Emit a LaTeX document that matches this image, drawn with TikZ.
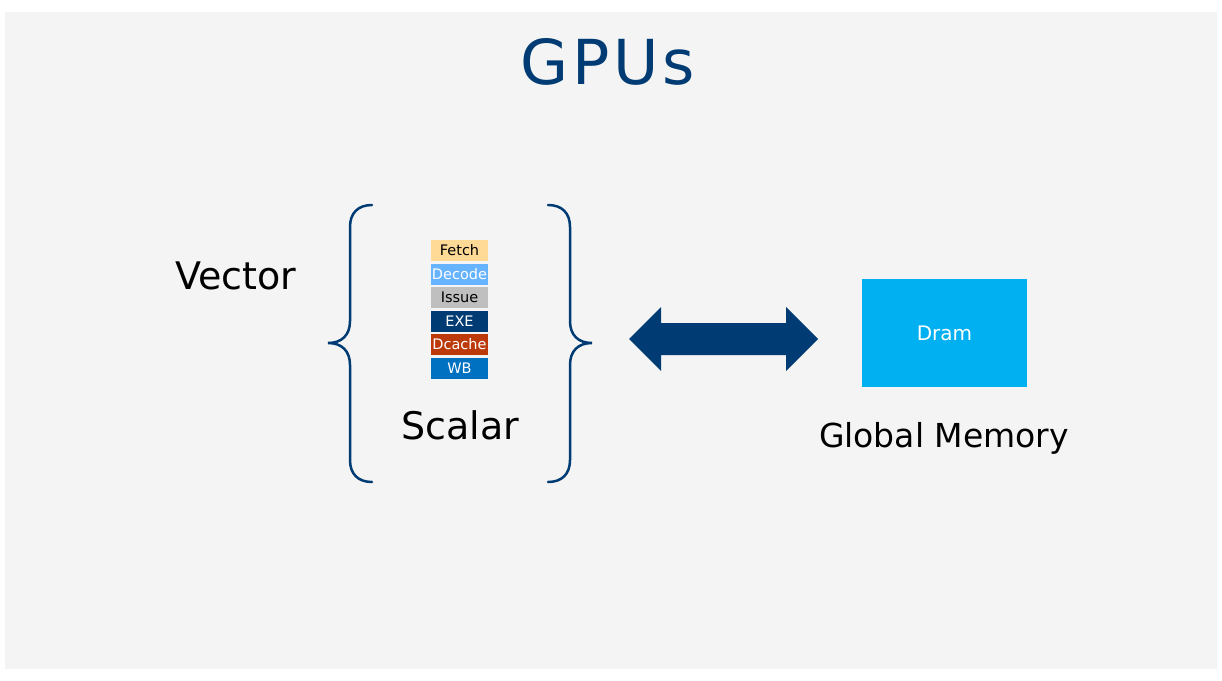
\documentclass[tikz,border=0pt]{standalone}
\usepackage{fontspec}
\setmainfont{DejaVu Sans}
\newfontfamily\titlefont[LetterSpace=6]{DejaVu Sans}
\usetikzlibrary{positioning}
\definecolor{bgc}{HTML}{F4F4F4}
\definecolor{navy}{HTML}{003B73}
\definecolor{cFetch}{HTML}{FFD996}
\definecolor{cDecode}{HTML}{66B3FF}
\definecolor{cIssue}{HTML}{BFBFBF}
\definecolor{cExe}{HTML}{003B73}
\definecolor{cDcache}{HTML}{BC3A0A}
\definecolor{cWB}{HTML}{0070C0}
\definecolor{cDram}{HTML}{00B0F0}
\tikzset{
  stage/.style={minimum width=57pt, minimum height=21pt, inner sep=0pt, font=\fontsize{14.5}{16}\selectfont},
  bigtext/.style={font=\fontsize{38}{44}\selectfont, text=black, inner sep=0pt},
  bracepath/.style={draw=navy, line width=2.5pt, line cap=round},
}
\begin{document}
\begin{tikzpicture}[x=1pt,y=-1pt]
\useasboundingbox (0,0) rectangle (1222,680);
\fill[bgc] (5,12) rectangle (1217,669);
\node[font=\titlefont\fontsize{62}{70}\selectfont, text=navy, inner sep=0pt] (title) at (608,62) {GPUs};
\node[bigtext] (vector) at (236,276) {Vector};
% stages
\node[stage, fill=cFetch, text=black] (fetch) at (459.5,250.5) {Fetch};
\node[stage, fill=cDecode, text=white] (decode) at (459.5,274.5) {Decode};
\node[stage, fill=cIssue, text=black] (issue) at (459.5,297.5) {Issue};
\node[stage, fill=cExe, text=white] (exe) at (459.5,321.5) {EXE};
\node[stage, fill=cDcache, text=white] (dcache) at (459.5,344.5) {Dcache};
\node[stage, fill=cWB, text=white] (wb) at (459.5,368.5) {WB};
\node[bigtext] (scalar) at (460,425) {Scalar};
% braces
\coordinate (lbtop) at (372,205);
\coordinate (lbtip) at (328,343);
\coordinate (lbbot) at (372,482);
\coordinate (rbtop) at (548,205);
\coordinate (rbtip) at (592,343);
\coordinate (rbbot) at (548,482);
\draw[bracepath] (lbtop) .. controls (358,205) and (350,213) .. (350,227) -- (350,321)
  .. controls (350,335) and (342,343) .. (lbtip)
  .. controls (342,343) and (350,351) .. (350,365) -- (350,460)
  .. controls (350,474) and (358,482) .. (lbbot);
\draw[bracepath] (rbtop) .. controls (562,205) and (570,213) .. (570,227) -- (570,321)
  .. controls (570,335) and (578,343) .. (rbtip)
  .. controls (578,343) and (570,351) .. (570,365) -- (570,460)
  .. controls (570,474) and (562,482) .. (rbbot);
% double arrow
\coordinate (al) at (629,339);
\coordinate (ar) at (818,339);
\fill[navy] (al) -- (661,307) -- (661,323) -- (786,323) -- (786,307) -- (ar)
  -- (786,371) -- (786,355) -- (661,355) -- (661,371) -- cycle;
% dram
\node[fill=cDram, minimum width=165pt, minimum height=108pt, inner sep=0pt, text=white,
  font=\fontsize{20}{24}\selectfont] (dram) at (944.5,333) {Dram};
\node[bigtext, font=\fontsize{33}{40}\selectfont] (glob) at (944,438) {Global Memory};
\end{tikzpicture}
\end{document}
